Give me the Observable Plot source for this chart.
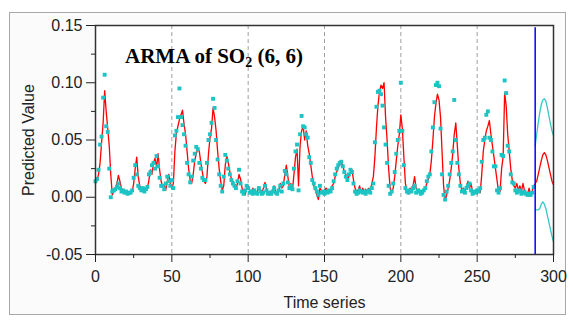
<!DOCTYPE html>
<html>
<head>
<meta charset="utf-8">
<script src="https://cdn.jsdelivr.net/npm/d3@7"></script>
<script src="https://cdn.jsdelivr.net/npm/@observablehq/plot@0.6"></script>
<style>
  html, body { margin: 0; padding: 0; background: #ffffff; }
  #wrap { position: relative; width: 573px; height: 324px; overflow: hidden; }
  #panel { position: absolute; left: 9px; top: 12px; width: 557px; height: 303px; border: 1px solid #a8a8a8; background: #fbfbfb; box-sizing: border-box; }
  #chart { position: absolute; left: 0; top: 0; }
  #title { position: absolute; left: 125px; top: 46px; font: bold 21px "Liberation Serif", "Times New Roman", serif; line-height: 20px; color: #000; white-space: nowrap; }
  #title sub { font-size: 14px; vertical-align: -4px; line-height: 0; }
</style>
</head>
<body>
<div id="wrap">
  <div id="panel"></div>
  <div id="chart"></div>
  <div id="title">ARMA of SO<sub>2</sub> (6, 6)</div>
</div>
<script>
// Observed values (cyan squares), time 0..287
const observed = [
0.014,0.016,0.024,0.046,0.053,0.087,0.107,0.062,0.057,0.025,
0.000,0.005,0.006,0.007,0.009,0.012,0.008,0.005,0.006,0.004,
0.005,0.003,0.004,0.004,0.006,0.017,0.028,0.020,0.010,0.008,
0.006,0.008,0.005,0.007,0.009,0.020,0.022,0.028,0.030,0.025,
0.036,0.027,0.017,0.010,0.010,0.007,0.012,0.018,0.014,0.010,
0.015,0.008,0.054,0.058,0.070,0.095,0.070,0.063,0.055,0.045,
0.030,0.020,0.013,0.018,0.032,0.038,0.044,0.042,0.030,0.025,
0.017,0.015,0.015,0.030,0.050,0.055,0.065,0.086,0.078,0.050,
0.033,0.020,0.010,0.005,0.018,0.037,0.032,0.025,0.020,0.015,
0.012,0.010,0.008,0.014,0.024,0.012,0.005,0.003,0.006,0.010,
0.008,0.004,0.005,0.003,0.006,0.004,0.003,0.008,0.005,0.003,
0.004,0.010,0.006,0.003,0.004,0.003,0.005,0.008,0.004,0.003,
0.006,0.010,0.005,0.012,0.023,0.020,0.013,0.008,0.010,0.007,
0.025,0.040,0.046,0.006,0.055,0.071,0.062,0.061,0.055,0.052,
0.035,0.030,0.015,0.012,0.008,0.005,0.002,0.010,0.004,0.005,
0.003,0.005,0.004,0.006,0.005,0.008,0.014,0.020,0.025,0.028,
0.030,0.031,0.027,0.022,0.018,0.015,0.020,0.024,0.022,0.012,
0.005,0.003,0.004,0.006,0.005,0.004,0.005,0.003,0.005,0.006,
0.004,0.008,0.012,0.048,0.079,0.092,0.093,0.090,0.080,0.061,
0.046,0.030,0.010,0.003,0.005,0.012,0.022,0.038,0.050,0.058,
0.100,0.058,0.028,0.008,0.005,0.004,0.006,0.005,0.008,0.010,
0.004,0.006,0.005,0.003,0.004,0.006,0.008,0.014,0.018,0.020,
0.040,0.061,0.083,0.098,0.100,0.097,0.060,0.020,0.002,-0.002,
0.005,0.010,0.020,0.030,0.040,0.085,0.050,0.030,0.020,0.010,
0.005,0.006,0.004,0.008,0.010,0.012,0.006,0.003,0.005,0.004,
0.006,0.005,0.008,0.031,0.050,0.052,0.072,0.075,0.052,0.050,
0.040,0.027,0.027,0.006,0.004,0.008,0.037,0.036,0.102,0.091,
0.045,0.040,0.020,0.013,0.012,0.006,0.004,0.005,0.006,0.003,
0.004,0.005,0.003,0.002,0.003,0.002,0.004,0.009
];

// ARMA(6,6) fitted values (red line), time 0..287
const predicted = [
0.012,0.015,0.020,0.030,0.048,0.065,0.093,0.075,0.060,0.045,
0.020,0.002,0.005,0.008,0.012,0.019,0.014,0.008,0.006,0.005,
0.004,0.005,0.003,0.004,0.005,0.012,0.025,0.035,0.018,0.010,
0.007,0.006,0.008,0.006,0.008,0.015,0.024,0.020,0.030,0.034,
0.026,0.038,0.024,0.014,0.009,0.011,0.006,0.014,0.020,0.012,
0.008,0.012,0.040,0.056,0.062,0.068,0.072,0.076,0.064,0.055,
0.040,0.025,0.015,0.012,0.020,0.032,0.038,0.042,0.040,0.030,
0.022,0.014,0.012,0.018,0.038,0.052,0.060,0.078,0.070,0.058,
0.040,0.025,0.014,0.006,0.010,0.028,0.036,0.030,0.022,0.016,
0.014,0.010,0.008,0.012,0.020,0.016,0.008,0.004,0.002,0.008,
0.010,0.006,0.004,0.008,0.006,0.003,0.005,0.009,0.006,0.004,
0.008,0.013,0.008,0.004,0.005,0.003,0.006,0.010,0.005,0.003,
0.005,0.012,0.008,0.010,0.020,0.028,0.018,0.008,0.012,0.006,
0.020,0.035,0.042,0.010,0.045,0.058,0.062,0.050,0.058,0.045,
0.038,0.028,0.018,0.010,0.006,0.002,-0.002,0.008,0.006,0.003,
0.005,0.008,0.006,0.004,0.006,0.010,0.012,0.018,0.022,0.026,
0.028,0.030,0.028,0.022,0.020,0.016,0.018,0.022,0.024,0.015,
0.008,0.005,0.006,0.010,0.004,0.008,0.005,0.007,0.004,0.008,
0.006,0.012,0.018,0.035,0.060,0.080,0.092,0.098,0.095,0.100,
0.070,0.050,0.025,0.008,0.004,0.008,0.018,0.032,0.045,0.055,
0.072,0.060,0.035,0.012,0.006,0.003,0.008,0.006,0.010,0.018,
0.008,0.005,0.007,0.004,0.006,0.005,0.008,0.012,0.016,0.020,
0.032,0.050,0.070,0.082,0.090,0.085,0.070,0.040,0.010,-0.003,
0.002,0.008,0.015,0.025,0.038,0.055,0.065,0.045,0.025,0.012,
0.006,0.008,0.005,0.010,0.014,0.008,0.012,0.005,0.004,0.006,
0.003,0.006,0.004,0.020,0.040,0.050,0.058,0.062,0.067,0.055,
0.045,0.035,0.025,0.015,0.005,0.005,0.025,0.035,0.091,0.080,
0.055,0.040,0.025,0.015,0.010,0.008,0.012,0.006,0.010,0.005,
0.012,0.006,0.004,0.003,0.008,0.002,0.005,0.010
];

// Forecast horizon (time 288..300)
const forecastTime  = [288,289,290,291,292,293,294,295,296,297,298,299,300];
const forecastMean  = [0.012,0.014,0.020,0.026,0.032,0.037,0.039,0.037,0.032,0.026,0.020,0.014,0.011];
const forecastUpper = [0.045,0.055,0.065,0.074,0.081,0.085,0.086,0.084,0.078,0.071,0.064,0.058,0.054];
const forecastLower = [-0.011,-0.011,-0.011,-0.010,-0.006,-0.004,-0.006,-0.010,-0.016,-0.022,-0.028,-0.034,-0.039];

const forecastStart = [288];
const xTicks = [0,50,100,150,200,250,300];
const xMinorTicks = [25,75,125,175,225,275];
const xGrid = [50,100,150,200,250];
const yTicks = [-0.05,0,0.05,0.10,0.15];
const yMinorTicks = [-0.025,0.025,0.075,0.125];

const fitted = observed.map((v, i) => ({t: i, obs: v, pred: predicted[i]}));
const fc = forecastTime.map((t, i) => ({t, mean: forecastMean[i], upper: forecastUpper[i], lower: forecastLower[i]}));
// connect the fitted red line to the forecast mean
const redLine = fitted.map(d => ({t: d.t, v: d.pred})).concat(fc.map(d => ({t: d.t, v: d.mean})));

const chart = Plot.plot({
  width: 573,
  height: 324,
  marginLeft: 95,
  marginRight: 20,
  marginTop: 25,
  marginBottom: 70,
  style: {background: "transparent", fontFamily: "'Liberation Sans', Arial, sans-serif", fontSize: "16px", color: "#222"},
  x: {domain: [0, 300]},
  y: {domain: [-0.05, 0.15]},
  marks: [
    Plot.frame({fill: "white", stroke: null}),
    Plot.ruleX(xGrid, {stroke: "#a0a0a0", strokeDasharray: "4,3", strokeWidth: 1}),
    Plot.line(redLine, {x: "t", y: "v", stroke: "#ff0000", strokeWidth: 1.3}),
    Plot.line(fc, {x: "t", y: "upper", stroke: "#33c8c8", strokeWidth: 1.3}),
    Plot.line(fc, {x: "t", y: "lower", stroke: "#33c8c8", strokeWidth: 1.3}),
    Plot.dot(fitted, {x: "t", y: "obs", symbol: "square", r: 2.2, fill: "#1cc4c4", stroke: null}),
    Plot.ruleX(forecastStart, {stroke: "#0000ff", strokeWidth: 1.5, y1: -0.05, y2: 0.148}),
    Plot.frame({stroke: "#333", strokeWidth: 1.5}),
    Plot.axisX(xTicks, {tickSize: 8, tickPadding: 8, stroke: "#222", label: "Time series", labelAnchor: "center", labelOffset: 53, labelArrow: "none"}),
    Plot.axisX(xMinorTicks, {tickSize: 4, stroke: "#222", tickFormat: () => "", label: null}),
    Plot.axisY(yTicks, {tickSize: 9, tickPadding: 4, stroke: "#222", tickFormat: d => d.toFixed(2), label: "Predicted Value", labelAnchor: "center", labelOffset: 73, labelArrow: "none"}),
    Plot.axisY(yMinorTicks, {tickSize: 4, stroke: "#222", tickFormat: () => "", label: null})
  ]
});
document.getElementById("chart").appendChild(chart);
</script>
</body>
</html>
